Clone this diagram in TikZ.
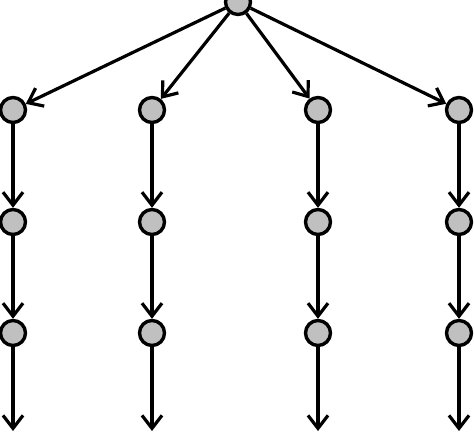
\documentclass[tikz,border=0pt]{standalone}
\usetikzlibrary{arrows.meta}
\definecolor{nodegray}{RGB}{192,192,192}
\begin{document}
\begin{tikzpicture}[x=1pt,y=-1pt,
  vert/.style={circle,draw=black,fill=nodegray,line width=3.4pt,minimum size=25pt,inner sep=0pt},
  edge/.style={line width=3.2pt,-{Straight Barb[length=13pt,width=20pt]}}]
\useasboundingbox (0,0) rectangle (474,432);
\node[vert] (r) at (238,2) {};
\foreach \c/\x in {a/13,b/152,c/318,d/459}{
  \node[vert] (\c1) at (\x,110) {};
  \node[vert] (\c2) at (\x,222) {};
  \node[vert] (\c3) at (\x,333) {};
  \coordinate (\c4) at (\x,431);
  \draw[edge] (r) -- (\c1);
  \draw[edge] (\c1) -- (\c2);
  \draw[edge] (\c2) -- (\c3);
  \draw[edge] (\c3) -- (\c4);
}
\end{tikzpicture}
\end{document}
